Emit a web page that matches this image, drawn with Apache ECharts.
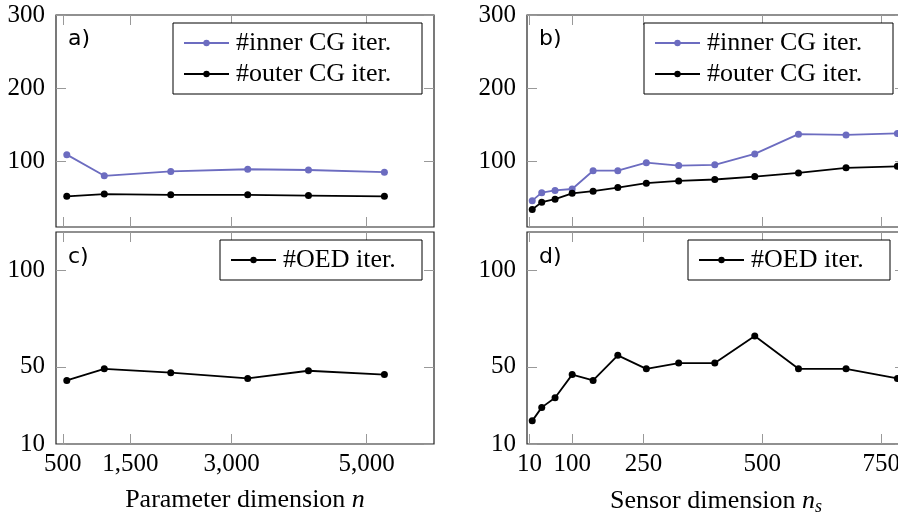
<!DOCTYPE html>
<html lang="en">
  <head>
    <meta charset="UTF-8" />
    <title>OED iterations</title>
    <style>
      html, body { margin: 0; padding: 0; background: #fff; }
    </style>
  </head>
  <body>
    <div id="main" style="width: 898px; height: 516px"></div>
    <script src="https://cdn.jsdelivr.net/npm/echarts@6/dist/echarts.min.js"></script>
    <script>
      // parameter dimension study (panels a, c)
      var nParam = [560, 1115, 2100, 3240, 4140, 5265];
      var innerA = [109, 80, 86, 89, 88, 85];
      var outerA = [52, 55, 54, 54, 53, 52];
      var oedA = [43, 49, 47, 44, 48, 46];

      // sensor dimension study (panels b, d)
      var nSensor = [16, 36, 64, 100, 144, 196, 256, 324, 400, 484, 576, 676, 784];
      var innerB = [46, 57, 60, 62, 87, 87, 98, 94, 95, 110, 137, 136, 138];
      var outerB = [34, 44, 48, 56, 59, 64, 70, 73, 75, 79, 84, 91, 93];
      var oedB = [22, 29, 34, 46, 43, 56, 49, 52, 52, 66, 49, 49, 44];

      var ticksParam = [500, 1500, 3000, 5000];
      var ticksSensor = [10, 100, 250, 500, 750];
      var ticksTop = [100, 200, 300];
      var ticksBottom = [10, 50, 100];

      var serif = "'Liberation Serif', 'DejaVu Serif', serif";
      var fs = 25;
      var blue = "#6c6cc0";
      var tickGray = "#999";

      var chart = echarts.init(document.getElementById("main"));

      var grids = [
        { left: 56, top: 15, width: 378, height: 212 },
        { left: 527, top: 15, width: 378, height: 212 },
        { left: 56, top: 232, width: 378, height: 212 },
        { left: 527, top: 232, width: 378, height: 212 },
      ];
      grids.forEach(function (g) {
        g.show = true;
        g.borderColor = "#222";
        g.borderWidth = 1.2;
        g.backgroundColor = "transparent";
        g.outerBoundsMode = "none";
        g.containLabel = false;
      });

      function tick(vals) {
        return {
          show: true,
          inside: true,
          length: 10,
          customValues: vals,
          lineStyle: { color: tickGray, width: 1 },
        };
      }

      function xPair(gi, min, max, vals, withLabels, name) {
        var bottom = {
          type: "value",
          gridIndex: gi,
          position: "bottom",
          min: min,
          max: max,
          axisLine: { show: false },
          axisTick: tick(vals),
          splitLine: { show: false },
          axisLabel: {
            show: withLabels,
            customValues: vals,
            margin: 8,
            color: "#000",
            fontFamily: serif,
            fontSize: fs,
            formatter: function (v) {
              return v.toLocaleString("en-US");
            },
          },
        };
        if (name) {
          bottom.name = name;
          bottom.nameLocation = "middle";
          bottom.nameGap = 43;
          bottom.nameTextStyle = {
            color: "#000",
            fontFamily: serif,
            fontSize: 26,
            rich: {
              i: { fontFamily: serif, fontSize: 26, fontStyle: "italic", color: "#000" },
              s: {
                fontFamily: serif,
                fontSize: 18,
                fontStyle: "italic",
                color: "#000",
                padding: [11, 0, 0, 0],
              },
            },
          };
        }
        var top = {
          type: "value",
          gridIndex: gi,
          position: "top",
          min: min,
          max: max,
          axisLine: { show: false },
          axisTick: tick(vals),
          splitLine: { show: false },
          axisLabel: { show: false },
        };
        return [bottom, top];
      }

      function yPair(gi, min, max, vals) {
        var left = {
          type: "value",
          gridIndex: gi,
          position: "left",
          min: min,
          max: max,
          axisLine: { show: false },
          axisTick: tick(vals),
          splitLine: { show: false },
          axisLabel: {
            customValues: vals,
            margin: 11,
            color: "#000",
            fontFamily: serif,
            fontSize: fs,
          },
        };
        var right = {
          type: "value",
          gridIndex: gi,
          position: "right",
          min: min,
          max: max,
          axisLine: { show: false },
          axisTick: tick(vals),
          splitLine: { show: false },
          axisLabel: { show: false },
        };
        return [left, right];
      }

      var xAxes = []
        .concat(xPair(0, 400, 6000, ticksParam, false))
        .concat(xPair(1, 5, 800, ticksSensor, false))
        .concat(xPair(2, 400, 6000, ticksParam, true, "Parameter dimension {i|n}"))
        .concat(xPair(3, 5, 800, ticksSensor, true, "Sensor dimension {i|n}{s|s}"));

      var yAxes = []
        .concat(yPair(0, 10, 300, ticksTop))
        .concat(yPair(1, 10, 300, ticksTop))
        .concat(yPair(2, 10, 120, ticksBottom))
        .concat(yPair(3, 10, 120, ticksBottom));

      function pairs(xs, ys) {
        return xs.map(function (x, i) {
          return [x, ys[i]];
        });
      }

      function line(name, color, gi, xs, ys) {
        return {
          type: "line",
          name: name,
          xAxisIndex: gi * 2,
          yAxisIndex: gi * 2,
          data: pairs(xs, ys),
          symbol: "circle",
          symbolSize: 7,
          showSymbol: true,
          animation: false,
          lineStyle: { color: color, width: 1.8 },
          itemStyle: { color: color },
        };
      }

      var series = [
        line("#inner CG iter.", blue, 0, nParam, innerA),
        line("#outer CG iter.", "#000", 0, nParam, outerA),
        line("#inner CG iter.", blue, 1, nSensor, innerB),
        line("#outer CG iter.", "#000", 1, nSensor, outerB),
        line("#OED iter.", "#000", 2, nParam, oedA),
        line("#OED iter.", "#000", 3, nSensor, oedB),
      ];

      function legend(names, right, top, textWidth) {
        return {
          data: names,
          orient: "vertical",
          right: right,
          top: top,
          padding: [7, 14, 7, 10],
          itemGap: 5,
          itemWidth: 45,
          itemHeight: 8,
          borderColor: "#000",
          borderWidth: 1,
          backgroundColor: "#fff",
          selectedMode: false,
          textStyle: {
            color: "#000",
            fontFamily: serif,
            fontSize: 26,
            lineHeight: 25,
            width: textWidth,
            padding: [0, 0, 0, 2],
          },
        };
      }

      var cgNames = ["#inner CG iter.", "#outer CG iter."];

      function panelTag(text, x, y) {
        return {
          type: "text",
          left: x,
          top: y,
          z: 10,
          style: {
            text: text,
            fill: "#000",
            font: "22px 'DejaVu Sans'",
          },
        };
      }

      var option = {
        animation: false,
        grid: grids,
        xAxis: xAxes,
        yAxis: yAxes,
        series: series,
        legend: [
          legend(cgNames, 476, 23, 172),
          legend(cgNames, 5, 23, 172),
          legend(["#OED iter."], 476, 240, 125),
          legend(["#OED iter."], 8, 240, 125),
        ],
        graphic: [
          panelTag("a)", 68, 28),
          panelTag("b)", 539, 28),
          panelTag("c)", 68, 246),
          panelTag("d)", 539, 246),
        ],
      };

      chart.setOption(option);
    </script>
  </body>
</html>
